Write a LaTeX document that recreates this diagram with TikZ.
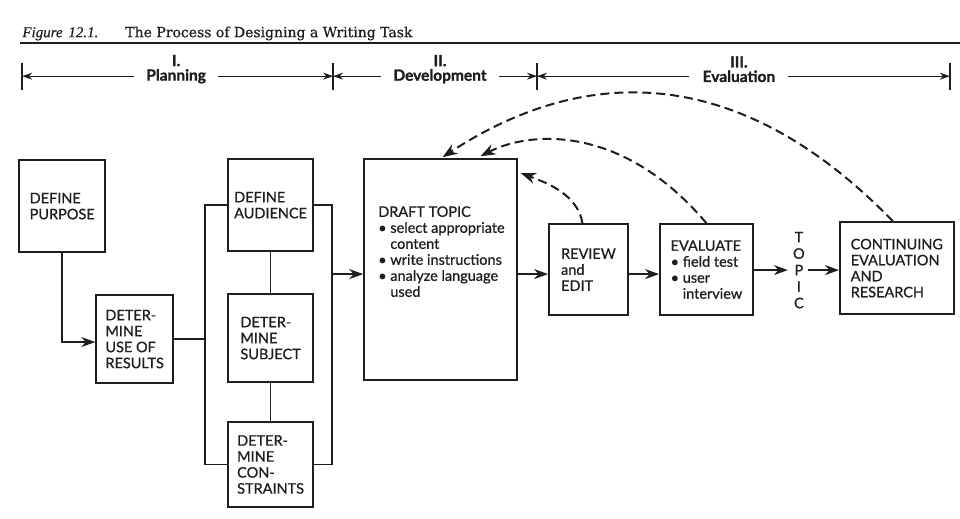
\documentclass[tikz,border=0pt]{standalone}
\usepackage{fontspec}
\setmainfont{Lato}
\newfontfamily\boxfont[FakeBold=0.8]{Lato}
\newfontfamily\phasefont[FakeBold=1.2]{Lato Bold}
\newfontfamily\titlefont[FakeBold=0.6]{DejaVu Serif}
\newfontfamily\figfont[FakeBold=0.5]{Liberation Serif}
\usetikzlibrary{arrows.meta}
\definecolor{ink}{HTML}{1E1E1E}
\begin{document}
\begin{tikzpicture}[x=1pt,y=-1pt,
  every path/.style={draw=ink},
  box/.style={draw=ink, line width=1.8pt, rectangle, inner sep=0pt, align=left, text=ink,
    font=\boxfont\fontsize{14.5}{16}\selectfont},
  txt/.style={align=left, text=ink, inner sep=0pt, font=\boxfont\fontsize{14.5}{16}\selectfont},
  phase/.style={align=center, text=ink, inner sep=0pt, font=\phasefont\fontsize{15.5}{14.5}\selectfont},
  conn/.style={line width=1.8pt},
  arr/.style={line width=1.8pt, -{Stealth[length=14pt,width=10pt]}},
  tl/.style={line width=1.3pt, -{Stealth[length=10pt,width=7pt]}},
  tick/.style={line width=1.6pt},
  back/.style={line width=2pt, dash pattern=on 9pt off 5pt, -{Stealth[length=15pt,width=11pt]}}
]
\useasboundingbox (0,0) rectangle (960,518);
\fill[white] (0,0) rectangle (960,518);

% title
\node[anchor=base west, inner sep=0pt, text=ink, font=\titlefont\fontsize{14}{16}\selectfont] (title) at (22,37)
  {\makebox[46pt][l]{\figfont\itshape\fontsize{15}{16}\selectfont Figure}\makebox[57pt][l]{\figfont\itshape\fontsize{15}{16}\selectfont 12.1.}The Process of Designing a Writing Task};
\draw[line width=2pt] (20,43) -- (960,43);

% timeline
\coordinate (t0) at (22,76);
\coordinate (t1) at (333,76);
\coordinate (t2) at (537,76);
\coordinate (t3) at (950,76);
\foreach \c in {t0,t1,t2,t3} \draw[tick] ([yshift=13pt]\c) -- ([yshift=-14pt]\c);
\node[phase] (p1) at (176,69) {I.\\Planning};
\node[phase] (p2) at (440,69) {II.\\Development};
\node[phase] (p3) at (739,69) {III.\\Evaluation};
\draw[tl] ([xshift=-12pt]p1.west |- t0) -- (t0);
\draw[tl] ([xshift=12pt]p1.east |- t0) -- (t1);
\draw[tl] ([xshift=-12pt]p2.west |- t1) -- (t1);
\draw[tl] ([xshift=12pt]p2.east |- t1) -- (t2);
\draw[tl] ([xshift=-13pt]p3.west |- t2) -- (t2);
\draw[tl] ([xshift=13pt]p3.east |- t2) -- (t3);

% boxes
\node[box, minimum width=86pt, minimum height=92pt] (purpose) at (62,206) {DEFINE\\PURPOSE};
\node[box, minimum width=77pt, minimum height=88pt] (use) at (134.5,339) {DETER-\\MINE\\USE OF\\RESULTS};
\node[box, minimum width=85pt, minimum height=92pt] (audience) at (270.5,205) {DEFINE\\AUDIENCE};
\node[box, minimum width=85pt, minimum height=88pt] (subject) at (270.5,338) {DETER-\\MINE\\SUBJECT};
\node[box, minimum width=85pt, minimum height=85pt] (constraints) at (270.5,464.5) {DETER-\\MINE\\CON-\\STRAINTS};
\node[box, minimum width=153pt, minimum height=221pt] (draft) at (440.5,269.5) {};
\node[txt, anchor=north west] (drafttxt) at (378,206)
  {DRAFT TOPIC\\
   \textbullet\ select appropriate\\
   \hphantom{\textbullet\ }content\\
   \textbullet\ write instructions\\
   \textbullet\ analyze language\\
   \hphantom{\textbullet\ }used};
\node[box, minimum width=79pt, minimum height=91pt] (review) at (588.5,269.5) {REVIEW\\and\\EDIT};
\node[box, minimum width=93pt, minimum height=91pt] (evaluate) at (706.5,269.5)
  {EVALUATE\\
   \textbullet\ field test\\
   \textbullet\ user\\
   \hphantom{\textbullet\ }interview};
\node[txt, align=center, font=\boxfont\fontsize{14.5}{16.5}\selectfont, inner sep=3pt] (topic) at (799,270) {T\\O\\P\\I\\C};
\node[box, minimum width=114pt, minimum height=92pt] (continuing) at (897,268)
  {CONTINUING\\EVALUATION\\AND\\RESEARCH};

% planning connectors
\coordinate (lbt) at (205,205);
\coordinate (lbb) at (205,464.5);
\coordinate (rbt) at (332,205);
\coordinate (rbb) at (332,464.5);
\coordinate (rbm) at (332,274);
\draw[arr] (purpose.south) |- ([yshift=-3pt]use.west);
\draw[conn] (use.east) -- (use.east -| lbt);
\draw[conn] (audience.west) -- (lbt) -- (lbb) -- (constraints.west);
\draw[conn] (audience.east) -- (rbt) -- (rbb) -- (constraints.east);
\draw[conn] (audience.south) -- (subject.north);
\draw[conn] (subject.south) -- (constraints.north);
\draw[arr] (rbm) -- (draft.west |- rbm);

% main flow
\draw[arr] (draft.east |- rbm) -- (review.west |- rbm);
\draw[arr] (review.east |- rbm) -- (evaluate.west |- rbm);
\draw[arr] (evaluate.east |- topic) -- ([xshift=-2pt]topic.west);
\draw[arr] (topic.east) -- (continuing.west |- topic);

% feedback loops
\draw[back] ([xshift=-6pt]review.north) .. controls (578,195) and (548,183) .. ([shift={(3,15)}]draft.north east);
\draw[back] (evaluate.north) .. controls (622,123) and (529,131) .. ([shift={(40,-2)}]draft.north);
\draw[back] ([xshift=-4pt]continuing.north) .. controls (729,52) and (572,72) .. ([shift={(2,-1)}]draft.north);
\end{tikzpicture}
\end{document}
